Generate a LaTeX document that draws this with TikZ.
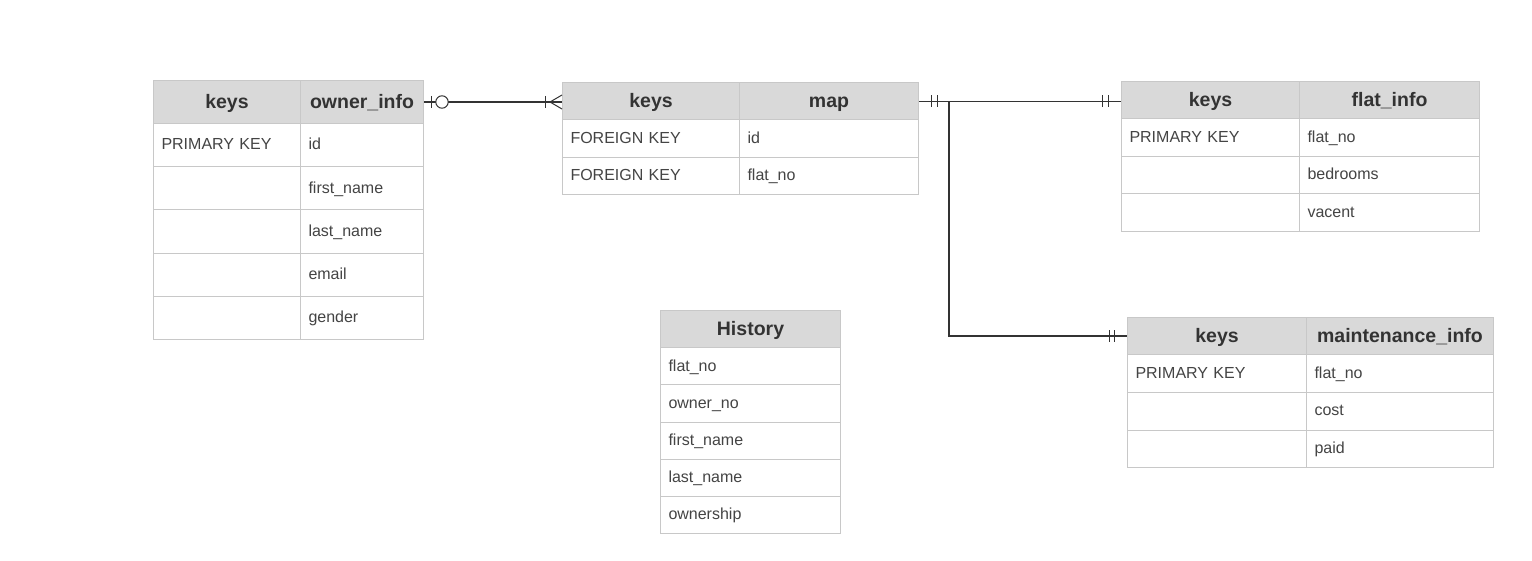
\documentclass[tikz,border=0pt]{standalone}
\usepackage{fontspec}
\setmainfont{Liberation Sans}
\usetikzlibrary{calc}
\definecolor{hdrfill}{HTML}{D9D9D9}
\definecolor{bordc}{HTML}{C8C8C8}
\definecolor{hdrtxt}{HTML}{333333}
\definecolor{bodytxt}{HTML}{444444}
\definecolor{connc}{HTML}{333333}
\tikzset{
  hdr/.style={draw=bordc, line width=1pt, fill=hdrfill, inner sep=0pt, anchor=north west,
    font=\fontsize{19.5}{22}\selectfont\bfseries, text=hdrtxt, text height=17pt, text depth=4pt},
  bcell/.style={draw=bordc, line width=1pt, fill=white, inner xsep=8pt, inner ysep=0pt, anchor=north west,
    align=left, font=\fontsize{16}{19}\selectfont, text=bodytxt, text height=13pt, text depth=3.5pt},
  conn/.style={draw=connc, line width=1.3pt},
  ermark/.style={draw=connc, line width=1pt}
}
\newcommand\hcell[6]{\node[hdr,minimum width=#4,minimum height=#5] (#1) at (#2,#3) {#6};}
\newcommand\bcel[6]{\pgfmathsetmacro\mytw{#4-16}\node[bcell,minimum width=#4,minimum height=#5,text width=\mytw pt] (#1) at (#2,#3) {#6};}
\begin{document}
\begin{tikzpicture}[x=1pt,y=-1pt]
\useasboundingbox (0,0) rectangle (1532,561);
% owner table
\hcell{ok}{153}{80}{147}{43}{keys}
\hcell{oi}{300}{80}{123}{43}{owner\_info}
\bcel{o1a}{153}{123}{147}{43.2}{PRIMARY KEY}
\bcel{o1b}{300}{123}{123}{43.2}{id}
\bcel{o2a}{153}{166.2}{147}{43.2}{}
\bcel{o2b}{300}{166.2}{123}{43.2}{first\_name}
\bcel{o3a}{153}{209.4}{147}{43.2}{}
\bcel{o3b}{300}{209.4}{123}{43.2}{last\_name}
\bcel{o4a}{153}{252.6}{147}{43.2}{}
\bcel{o4b}{300}{252.6}{123}{43.2}{email}
\bcel{o5a}{153}{295.8}{147}{43.2}{}
\bcel{o5b}{300}{295.8}{123}{43.2}{gender}
% map table
\hcell{mk}{562}{82}{177}{37.5}{keys}
\hcell{mm}{739}{82}{179}{37.5}{map}
\bcel{m1a}{562}{119.5}{177}{37.3}{FOREIGN KEY}
\bcel{m1b}{739}{119.5}{179}{37.3}{id}
\bcel{m2a}{562}{156.8}{177}{37.3}{FOREIGN KEY}
\bcel{m2b}{739}{156.8}{179}{37.3}{flat\_no}
% flat table
\hcell{fk}{1121}{81}{178}{37.3}{keys}
\hcell{fi}{1299}{81}{180}{37.3}{flat\_info}
\bcel{f1a}{1121}{118.3}{178}{37.5}{PRIMARY KEY}
\bcel{f1b}{1299}{118.3}{180}{37.5}{flat\_no}
\bcel{f2a}{1121}{155.8}{178}{37.5}{}
\bcel{f2b}{1299}{155.8}{180}{37.5}{bedrooms}
\bcel{f3a}{1121}{193.3}{178}{37.7}{}
\bcel{f3b}{1299}{193.3}{180}{37.7}{vacent}
% history table
\hcell{hh}{660}{310}{180}{37.2}{History}
\bcel{h1}{660}{347.2}{180}{37.2}{flat\_no}
\bcel{h2}{660}{384.4}{180}{37.2}{owner\_no}
\bcel{h3}{660}{421.6}{180}{37.2}{first\_name}
\bcel{h4}{660}{458.8}{180}{37.2}{last\_name}
\bcel{h5}{660}{496}{180}{37.2}{ownership}
% maintenance table
\hcell{tk}{1127}{317}{179}{37.3}{keys}
\hcell{ti}{1306}{317}{187}{37.3}{maintenance\_info}
\bcel{t1a}{1127}{354.3}{179}{37.6}{PRIMARY KEY}
\bcel{t1b}{1306}{354.3}{187}{37.6}{flat\_no}
\bcel{t2a}{1127}{391.9}{179}{37.6}{}
\bcel{t2b}{1306}{391.9}{187}{37.6}{cost}
\bcel{t3a}{1127}{429.5}{179}{37.6}{}
\bcel{t3b}{1306}{429.5}{187}{37.6}{paid}
% connector owner -> map
\coordinate (oe) at ($(oi.east)+(0,0)$);
\coordinate (mw) at (oe -| mk.west);
\draw[conn] (oe) -- (mw);
\draw[ermark] ($(oe)+(7,-6)$) -- ($(oe)+(7,6)$);
\draw[ermark, fill=white] ($(oe)+(18,0)$) circle (6.2);
\draw[ermark] ($(mw)+(-17,-6)$) -- ($(mw)+(-17,6)$);
\draw[ermark] ($(mw)+(-12,0)$) -- ($(mw)+(0,-7)$);
\draw[ermark] ($(mw)+(-12,0)$) -- ($(mw)+(0,7)$);
% connector map -> flat
\coordinate (me) at (mm.east);
\coordinate (fw) at (me -| fk.west);
\coordinate (br) at ($(me)+(30,0)$);
\coordinate (bd) at (br |- tk.west);
\draw[conn] (me) -- (fw);
\draw[conn] (br) -- (bd) -- (tk.west);
\draw[ermark] ($(me)+(12,-6)$) -- ($(me)+(12,6)$);
\draw[ermark] ($(me)+(18,-6)$) -- ($(me)+(18,6)$);
\draw[ermark] ($(fw)+(-19,-6)$) -- ($(fw)+(-19,6)$);
\draw[ermark] ($(fw)+(-13,-6)$) -- ($(fw)+(-13,6)$);
\draw[ermark] ($(tk.west)+(-18,-6)$) -- ($(tk.west)+(-18,6)$);
\draw[ermark] ($(tk.west)+(-13,-6)$) -- ($(tk.west)+(-13,6)$);
\end{tikzpicture}
\end{document}
